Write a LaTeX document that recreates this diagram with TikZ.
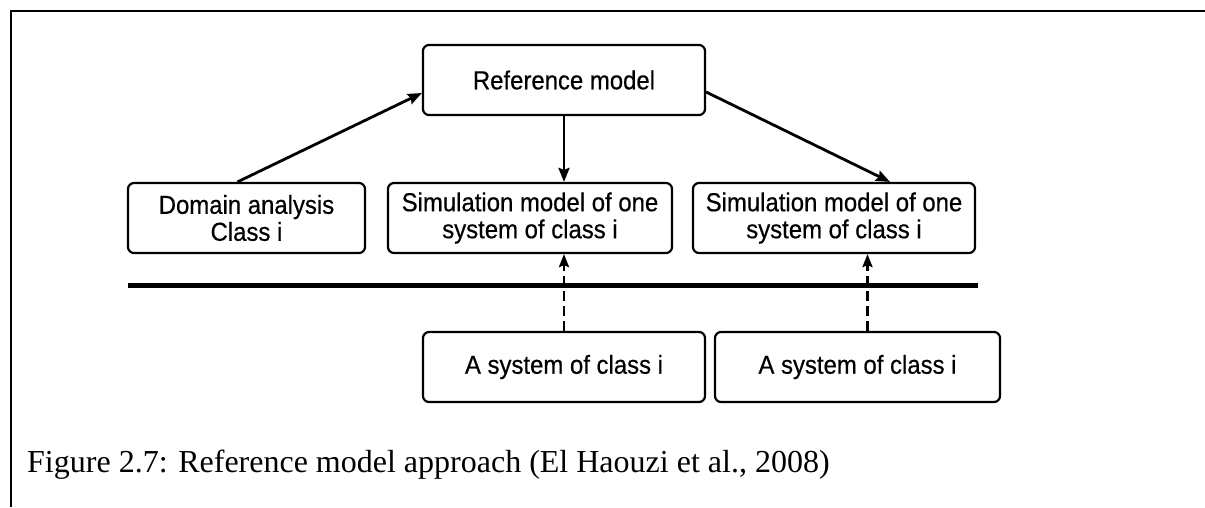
\documentclass[tikz,border=0pt]{standalone}
\usepackage{fontspec}
\setmainfont{Liberation Serif}
\newfontfamily\boxfont[FakeStretch=0.92,FakeBold=0.5]{Liberation Sans}
\usetikzlibrary{arrows.meta,calc}

\tikzset{
  modelbox/.style={draw=black, line width=2.2pt, rounded corners=6pt,
    inner sep=0pt, align=center, font=\boxfont\fontsize{26}{27}\selectfont},
  flow/.style={line width=2.8pt, -{Stealth[length=14pt,width=11pt,inset=2pt]}},
  realize/.style={line width=2.6pt, dash pattern=on 10pt off 5pt,
    -{Stealth[length=13pt,width=10pt,inset=2pt]}},
  frameline/.style={line width=2pt},
  divider/.style={line width=5pt}
}

\begin{document}
\begin{tikzpicture}[x=1pt,y=-1pt]
  \useasboundingbox (0,0) rectangle (1205,507);

  % page frame (top and left rules)
  \coordinate (ftl) at (11,11);
  \coordinate (ftr) at (1205,11);
  \coordinate (fbl) at (11,507);
  \draw[frameline] (ftr) -- (ftl) -- (fbl);

  % model level
  \node[modelbox, minimum width=282pt, minimum height=70pt] (ref) at (564,80) {Reference model};
  \node[modelbox, minimum width=237pt, minimum height=70pt] (dom) at (246.5,218) {Domain analysis\\Class i};
  \node[modelbox, minimum width=284pt, minimum height=70pt] (sim1) at (530,218) {Simulation model of one\\system of class i};
  \node[modelbox, minimum width=282pt, minimum height=70pt] (sim2) at (834,218) {Simulation model of one\\system of class i};

  % boundary between models and real systems
  \coordinate (divl) at (128,285);
  \coordinate (divr) at (978,285);
  \draw[divider] (divl) -- (divr);

  % real systems
  \node[modelbox, minimum width=282pt, minimum height=70pt] (sys1) at (564,367) {A system of class i};
  \node[modelbox, minimum width=285pt, minimum height=70pt] (sys2) at (857.5,367) {A system of class i};

  % connectors
  \draw[flow] ([xshift=-9pt]dom.north) -- ([yshift=-13pt]ref.west);
  \draw[flow] (ref.south) -- (ref.south |- sim1.north);
  \draw[flow] ([yshift=-12pt]ref.east) -- ([xshift=56pt]sim2.north);
  \draw[realize] (sys1.north) -- (sys1.north |- sim1.south);
  \draw[realize] ([xshift=10pt]sys2.north) -- ([xshift=10pt]sys2.north |- sim2.south);

  % caption
  \node[anchor=base west, inner sep=0pt, font=\fontsize{32}{38}\selectfont] (cap) at (27,472)
    {Figure 2.7: Reference model approach (El Haouzi et al., 2008)};
\end{tikzpicture}
\end{document}
